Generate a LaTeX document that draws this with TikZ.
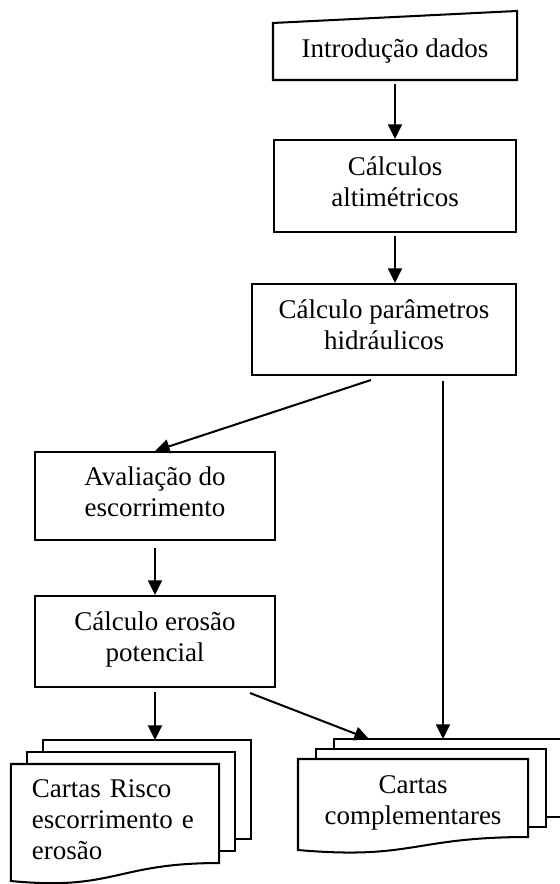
\documentclass[tikz,border=0pt]{standalone}
\usepackage{fontspec}
\setmainfont{Liberation Serif}
\usetikzlibrary{arrows.meta}
\def\pxu{0.4445pt}
\tikzset{
  texto/.style={align=center,inner sep=0pt,execute at begin node=\strut,execute at end node=\strut},
  caixa/.style={texto,draw},
  seta/.style={-{Triangle[length=6.5pt,width=6.2pt]}}
}

\begin{document}
\begin{tikzpicture}[x=\pxu,y=-\pxu,line width=0.9pt,font=\fontsize{12}{13.8}\selectfont]
\def\seta#1#2{\draw[seta] (#1) -- (#2);}
\def\folhas#1#2#3#4{
  \draw (#1.north west) -- (#1.south west) .. controls ([yshift=-10*\pxu]#1.south) and ([yshift=#4*\pxu]#1.south) .. ([yshift=#4*\pxu]#1.south east) -- (#1.north east) -- cycle;
  \draw ([xshift=#2*\pxu]#1.north west) -- ++(0,-#3) -| ([xshift=#2*\pxu,yshift=(#4+#3)*\pxu]#1.south east) -- ++(-#2,0);
  \draw ([xshift=2*#2*\pxu,yshift=#3*\pxu]#1.north west) -- ++(0,-#3) -| ([xshift=2*#2*\pxu,yshift=(#4+2*#3)*\pxu]#1.south east) -- ++(-#2,0);}
\useasboundingbox (0,0) rectangle (559,884);

\node[texto,minimum width=242*\pxu,minimum height=55*\pxu] at (395,51.5) (intro) {Introdução dados};
\draw (intro.south west) -- (intro.south east) -- ([yshift=12*\pxu]intro.north east) -- (intro.north west) -- cycle;

\node[caixa,minimum width=242*\pxu,minimum height=92*\pxu] at (395,186) (alt) {Cálculos\\altimétricos};
\node[caixa,minimum width=264*\pxu,minimum height=91*\pxu] at (384,329.5) (hid) {Cálculo parâmetros\\hidráulicos};
\node[caixa,minimum width=240*\pxu,minimum height=88*\pxu] at (155,496) (esc) {Avaliação do\\escorrimento};
\node[caixa,minimum width=240*\pxu,minimum height=91*\pxu] at (155,641.5) (ero) {Cálculo erosão\\potencial};

% cartas
\node[texto,align=left,text width=73.8pt,inner xsep=8.9pt,minimum width=206*\pxu,minimum height=115*\pxu] at (115,822.5) (risco) {Cartas Risco\\escorrimento e\\erosão};
\node[texto,minimum width=228*\pxu,minimum height=89*\pxu] at (413,804.5) (comp) {Cartas\\complementares};
\folhas{risco}{16}{12}{18}
\folhas{comp}{18}{10}{13}

% intro -> alt -> hid
\seta{[yshift=-4*\pxu]intro.south}{alt.north}
\seta{[yshift=-3*\pxu]alt.south}{alt.south |- hid.north}

% hid -> esc, hid -> comp
\seta{[xshift=-13*\pxu,yshift=-4*\pxu]hid.south}{esc.north}
\seta{[xshift=59*\pxu,yshift=-5*\pxu]hid.south}{[xshift=30*\pxu,yshift=20*\pxu]comp.north}

% esc -> ero -> cartas
\seta{[yshift=-7*\pxu]esc.south}{ero.north}
\seta{[yshift=-4*\pxu]ero.south}{[xshift=40*\pxu,yshift=24*\pxu]risco.north}
\seta{[xshift=95*\pxu,yshift=-5*\pxu]ero.south}{[xshift=-44*\pxu,yshift=20*\pxu]comp.north}
\end{tikzpicture}
\end{document}
